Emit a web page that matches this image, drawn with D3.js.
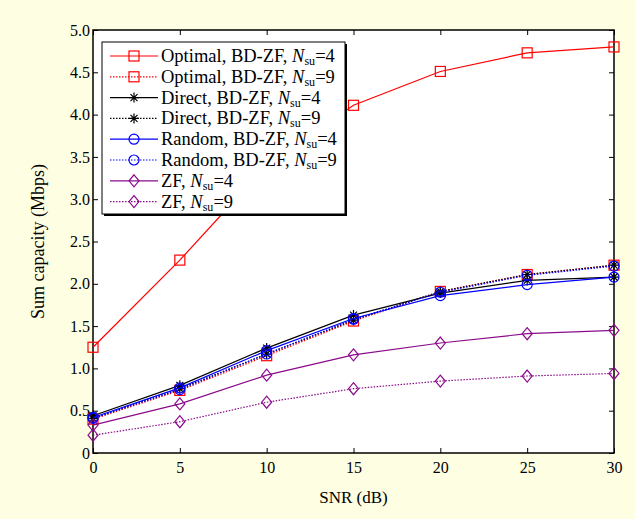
<!DOCTYPE html>
<html>
<head>
<meta charset="utf-8">
<script src="https://cdn.jsdelivr.net/npm/d3@7"></script>
<style>
  html, body { margin: 0; background: rgb(254, 254, 227); }
  svg { display: block; }
</style>
</head>
<body>
<div id="chart"></div>
<script>
// SNR values (dB)
const snr = [0, 5, 10, 15, 20, 25, 30];

// Sum capacity (Mbps) per scheme
const optimal4 = [1.25, 2.28, 3.40, 4.11, 4.51, 4.73, 4.80];
const optimal9 = [0.40, 0.74, 1.15, 1.56, 1.91, 2.11, 2.22];
const direct4 = [0.44, 0.80, 1.24, 1.63, 1.89, 2.04, 2.08];
const direct9 = [0.41, 0.76, 1.17, 1.57, 1.91, 2.11, 2.22];
const random4 = [0.42, 0.77, 1.21, 1.59, 1.86, 1.99, 2.08];
const random9 = [0.41, 0.75, 1.17, 1.58, 1.90, 2.10, 2.21];
const zf4 = [0.33, 0.58, 0.92, 1.16, 1.30, 1.41, 1.45];
const zf9 = [0.21, 0.37, 0.60, 0.76, 0.85, 0.91, 0.94];

const yTicks = [0, 0.5, 1.0, 1.5, 2.0, 2.5, 3.0, 3.5, 4.0, 4.5, 5.0];
const xTicks = [0, 5, 10, 15, 20, 25, 30];

const series = [
  { name: "Optimal, BD-ZF, ", n: "4", values: optimal4, color: "#ff0000", dash: null, marker: "square" },
  { name: "Optimal, BD-ZF, ", n: "9", values: optimal9, color: "#ff0000", dash: "1.5,1.5", marker: "square" },
  { name: "Direct, BD-ZF, ", n: "4", values: direct4, color: "#000000", dash: null, marker: "star" },
  { name: "Direct, BD-ZF, ", n: "9", values: direct9, color: "#000000", dash: "1.5,1.5", marker: "star" },
  { name: "Random, BD-ZF, ", n: "4", values: random4, color: "#0000ff", dash: null, marker: "circle" },
  { name: "Random, BD-ZF, ", n: "9", values: random9, color: "#0000ff", dash: "1.5,1.5", marker: "circle" },
  { name: "ZF, ", n: "4", values: zf4, color: "#8b0a8b", dash: null, marker: "diamond" },
  { name: "ZF, ", n: "9", values: zf9, color: "#8b0a8b", dash: "1.5,1.5", marker: "diamond" }
];

const width = 635;
const height = 519;
const margin = { top: 30, right: 21, bottom: 66, left: 93 };
const font = "'Liberation Serif', 'Times New Roman', serif";

const svg = d3.select("#chart").append("svg")
  .attr("width", width)
  .attr("height", height);

// page background
svg.append("rect").attr("width", width).attr("height", height)
  .style("fill", "rgb(254, 254, 227)");

const xScale = d3.scaleLinear().domain([0, 30]).range([margin.left, width - margin.right]);
const yScale = d3.scaleLinear().domain([0, 5]).range([height - margin.bottom, margin.top]);

// plot area
svg.append("rect")
  .attr("x", xScale(0)).attr("y", yScale(5))
  .attr("width", xScale(30) - xScale(0)).attr("height", yScale(0) - yScale(5))
  .attr("fill", "#ffffff");

// Axes (inward ticks, mirrored on top/right)
const tickLen = 5;
const xAxis = d3.axisBottom(xScale).tickValues(xTicks).tickSize(-tickLen).tickPadding(9).tickFormat(d3.format("d"));
const yAxis = d3.axisLeft(yScale).tickValues(yTicks).tickSize(-tickLen).tickPadding(3)
  .tickFormat(d => d === 0 ? "0" : d3.format(".1f")(d));

function styleAxis(g) {
  g.select(".domain").remove();
  g.selectAll("line").attr("stroke", "#000").attr("stroke-width", 1);
  g.selectAll("text").attr("font-family", font).attr("font-size", "16px").style("fill", "#000");
}

svg.append("g").attr("transform", `translate(0,${yScale(0)})`).call(xAxis).call(styleAxis);
svg.append("g").attr("transform", `translate(${xScale(0)},0)`).call(yAxis).call(styleAxis);
svg.append("g").attr("transform", `translate(0,${yScale(5)})`)
  .call(d3.axisTop(xScale).tickValues(xTicks).tickSize(-tickLen).tickFormat(""))
  .call(styleAxis);
svg.append("g").attr("transform", `translate(${xScale(30)},0)`)
  .call(d3.axisRight(yScale).tickValues(yTicks).tickSize(-tickLen).tickFormat(""))
  .call(styleAxis);

// frame
svg.append("rect")
  .attr("x", xScale(0)).attr("y", yScale(5))
  .attr("width", xScale(30) - xScale(0)).attr("height", yScale(0) - yScale(5))
  .attr("fill", "none").attr("stroke", "#000").attr("stroke-width", 1.5);

// markers
function drawMarker(g, type, x, y, color) {
  if (type === "square") {
    g.append("rect").attr("x", x - 5).attr("y", y - 5).attr("width", 10).attr("height", 10)
      .attr("fill", "none").attr("stroke", color).attr("stroke-width", 1.2);
  } else if (type === "circle") {
    g.append("circle").attr("cx", x).attr("cy", y).attr("r", 5)
      .attr("fill", "none").attr("stroke", color).attr("stroke-width", 1.2);
  } else if (type === "diamond") {
    g.append("path").attr("d", `M${x},${y - 6}L${x + 5},${y}L${x},${y + 6}L${x - 5},${y}Z`)
      .attr("fill", "none").attr("stroke", color).attr("stroke-width", 1.2);
  } else if (type === "star") {
    const r = 5;
    let d = `M${x - r},${y}L${x + r},${y}M${x},${y - r}L${x},${y + r}`;
    const k = r * 0.7;
    d += `M${x - k},${y - k}L${x + k},${y + k}M${x - k},${y + k}L${x + k},${y - k}`;
    g.append("path").attr("d", d).attr("stroke", color).attr("stroke-width", 1.2).attr("fill", "none");
  }
}

const line = d3.line()
  .x((d, i) => xScale(snr[i]))
  .y(d => yScale(d));

const plot = svg.append("g");
series.forEach(s => {
  const g = plot.append("g");
  g.append("path")
    .datum(s.values)
    .attr("fill", "none")
    .attr("stroke", s.color)
    .attr("stroke-width", 1.2)
    .attr("stroke-dasharray", s.dash)
    .attr("d", line);
  s.values.forEach((v, i) => drawMarker(g, s.marker, xScale(snr[i]), yScale(v), s.color));
});

// Legend
const lx = 102, ly = 42, lw = 243, lh = 172, rowH = 20.8;
const legend = svg.append("g");
legend.append("rect").attr("x", lx + 2).attr("y", ly + 2).attr("width", lw).attr("height", lh).attr("fill", "#000");
legend.append("rect").attr("x", lx).attr("y", ly).attr("width", lw).attr("height", lh)
  .attr("fill", "#fff").attr("stroke", "#000").attr("stroke-width", 1);

series.forEach((s, i) => {
  const y = ly + 14 + i * rowH;
  legend.append("line")
    .attr("x1", lx + 8).attr("x2", lx + 56).attr("y1", y).attr("y2", y)
    .attr("stroke", s.color).attr("stroke-width", 1.2).attr("stroke-dasharray", s.dash);
  drawMarker(legend, s.marker, lx + 32, y, s.color);
  const t = legend.append("text")
    .attr("x", lx + 59).attr("y", y + 6)
    .attr("font-family", font).attr("font-size", "18.5px").attr("fill", "#000");
  t.append("tspan").text(s.name);
  t.append("tspan").attr("font-style", "italic").text("N");
  t.append("tspan").attr("font-size", "12px").attr("dy", 3).text("su");
  t.append("tspan").attr("dy", -3).text("=" + s.n);
});

// Axis titles
svg.append("text")
  .attr("x", (xScale(0) + xScale(30)) / 2).attr("y", 503)
  .attr("text-anchor", "middle")
  .attr("font-family", font).attr("font-size", "17px").style("fill", "#000")
  .text("SNR (dB)");

svg.append("text")
  .attr("transform", `translate(44,${(yScale(0) + yScale(5)) / 2}) rotate(-90)`)
  .attr("text-anchor", "middle")
  .attr("font-family", font).attr("font-size", "18px").style("fill", "#000")
  .text("Sum capacity (Mbps)");
</script>
</body>
</html>
